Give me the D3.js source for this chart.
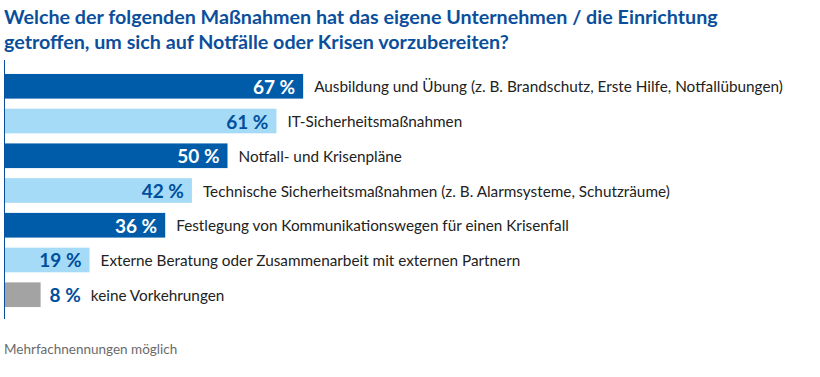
<!DOCTYPE html>
<html><head><meta charset="utf-8">
<script src="https://cdn.jsdelivr.net/npm/d3@7"></script>
<style>
body{margin:0;background:#fff;}
svg{display:block;}
</style></head>
<body>
<script>
const titleLines = ["Welche der folgenden Maßnahmen hat das eigene Unternehmen / die Einrichtung",
                    "getroffen, um sich auf Notfälle oder Krisen vorzubereiten?"];
const categories = [
  "Ausbildung und Übung (z. B. Brandschutz, Erste Hilfe, Notfallübungen)",
  "IT-Sicherheitsmaßnahmen",
  "Notfall- und Krisenpläne",
  "Technische Sicherheitsmaßnahmen (z. B. Alarmsysteme, Schutzräume)",
  "Festlegung von Kommunikationswegen für einen Krisenfall",
  "Externe Beratung oder Zusammenarbeit mit externen Partnern",
  "keine Vorkehrungen"
];
const values = [67, 61, 50, 42, 36, 19, 8];
const colorKeys = ["dark", "light", "dark", "light", "dark", "light", "gray"];
const footnote = "Mehrfachnennungen möglich";

const W = 820, H = 377;
const FONT = "Lato, 'Noto Sans', sans-serif";
const palette = {dark: "#005ca8", light: "#a6dbf7", gray: "#a3a3a3"};
const labelFill = {dark: "#ffffff", light: "#004f9c", gray: "#004f9c"};
const titleColor = "#0b4f9c";

const svg = d3.select("body").append("svg").attr("width", W).attr("height", H);

const x = d3.scaleLinear().domain([0, 100]).range([5, 450]);
const y = d3.scaleBand().domain(categories).range([67, 314]).paddingInner(0.29).paddingOuter(0.2);

svg.append("text").attr("x", 4).attr("y", 24)
  .attr("font-family", FONT).attr("font-weight", 700).attr("font-size", 19.7)
  .attr("fill", titleColor)
  .selectAll("tspan").data(titleLines).join("tspan")
  .attr("x", 4).attr("dy", (d, i) => i ? 25 : 0).text(d => d);

const rows = svg.append("g").selectAll("g").data(categories).join("g");

rows.append("rect")
  .attr("x", x(0)).attr("y", d => y(d))
  .attr("width", (d, i) => x(values[i]) - x(0))
  .attr("height", y.bandwidth())
  .attr("fill", (d, i) => palette[colorKeys[i]]);

const minInside = 12;
rows.each(function(d, i) {
  const g = d3.select(this);
  const end = x(values[i]);
  const cy = y(d) + y.bandwidth() / 2;
  const inside = values[i] >= minInside;
  const v = g.append("text")
    .attr("font-family", FONT).attr("font-weight", 700).attr("font-size", 19)
    .attr("dominant-baseline", "central")
    .attr("y", cy)
    .attr("fill", inside ? labelFill[colorKeys[i]] : labelFill.gray)
    .text(values[i] + " %");
  let labelX;
  if (inside) {
    v.attr("x", end - 8).attr("text-anchor", "end");
    labelX = end + 11;
  } else {
    v.attr("x", end + 9).attr("text-anchor", "start");
    labelX = end + 9 + v.node().getComputedTextLength() + 10;
  }
  g.append("text")
    .attr("font-family", FONT).attr("font-size", 15.3)
    .attr("dominant-baseline", "central")
    .attr("x", labelX).attr("y", cy).attr("fill", "#222")
    .text(d);
});

svg.append("line").attr("x1", 4.5).attr("x2", 4.5).attr("y1", 60).attr("y2", 319)
  .attr("stroke", "#0b4f9c").attr("stroke-width", 1);

svg.append("text").attr("x", 4).attr("y", 354)
  .attr("font-family", FONT).attr("font-size", 13.5).attr("fill", "#6b6b6b")
  .text(footnote);
</script>
</body></html>
